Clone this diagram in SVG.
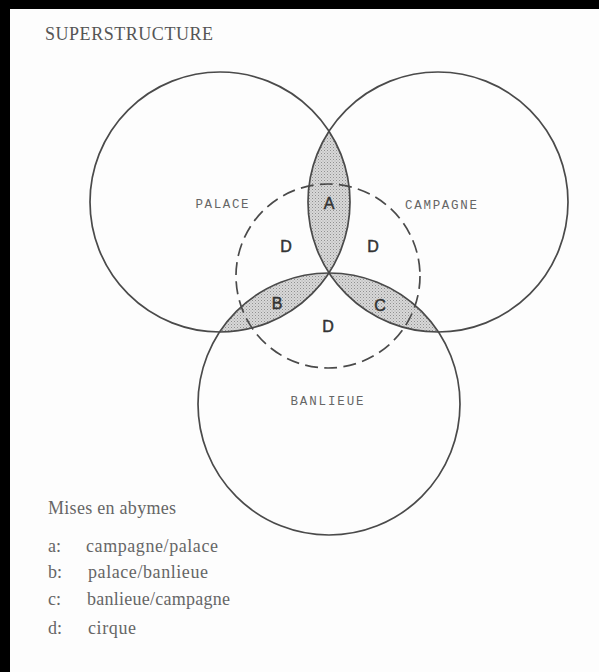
<svg xmlns="http://www.w3.org/2000/svg" width="599" height="672" viewBox="0 0 599 672">
  <defs>
    <pattern id="stipple" width="3" height="3" patternUnits="userSpaceOnUse">
      <rect width="3" height="3" fill="#d8d8d8"/>
      <rect x="0" y="0" width="1" height="1" fill="#909090"/>
      <rect x="1.5" y="1.5" width="1" height="1" fill="#a8a8a8"/>
    </pattern>
  </defs>
  <style>
    .circ { fill: none; stroke: #4a4a4a; stroke-width: 1.7; }
    .dash { fill: none; stroke: #4a4a4a; stroke-width: 1.7; stroke-dasharray: 13 6.3; }
    .lens { fill: url(#stipple); stroke: none; }
    .zone { font-family: "Liberation Sans", Arial, sans-serif; font-size: 16px; fill: #333; stroke: #333; stroke-width: 0.5; text-anchor: middle; }
    .place { font-family: "Liberation Mono", "Courier New", monospace; font-size: 12.5px; fill: #666; text-anchor: middle; }
    .title { font-family: "Liberation Serif", "Times New Roman", serif; font-size: 18px; fill: #555; }
    .legend { font-family: "Liberation Serif", "Times New Roman", serif; font-size: 18px; fill: #666; }
  </style>
  <rect x="0" y="0" width="599" height="672" fill="#fdfdfd"/>
  <rect x="0" y="0" width="599" height="9" fill="#000"/>
  <rect x="0" y="0" width="10" height="672" fill="#000"/>

  <text class="title" x="45" y="40" textLength="168">SUPERSTRUCTURE</text>

  <g id="lens-a">
    <path class="lens" d="M329 131.2 A130 130 0 0 1 329 272.8 A130 130 0 0 1 329 131.2 Z"/>
  </g>
  <g id="lens-b">
    <path class="lens" d="M219.5 332 A130 130 0 0 0 329 273 A131 131 0 0 0 219.5 332 Z"/>
  </g>
  <g id="lens-c">
    <path class="lens" d="M329 273 A130 130 0 0 0 438.5 332 A131 131 0 0 0 329 273 Z"/>
  </g>

  <g id="cirque">
    <circle class="dash" cx="328" cy="276" r="92"/>
  </g>
  <g id="palace">
    <circle class="circ" cx="220" cy="202" r="130"/>
    <text class="place" x="222" y="208" textLength="53">PALACE</text>
  </g>
  <g id="campagne">
    <circle class="circ" cx="438" cy="202" r="130"/>
    <text class="place" x="441" y="209" textLength="72">CAMPAGNE</text>
  </g>
  <g id="banlieue">
    <circle class="circ" cx="329" cy="404" r="131"/>
    <text class="place" x="327" y="405" textLength="73">BANLIEUE</text>
  </g>

  <g id="zone-labels">
    <text class="zone" x="329" y="209">A</text>
    <text class="zone" x="277" y="309">B</text>
    <text class="zone" x="380" y="311">C</text>
    <text class="zone" x="286" y="252">D</text>
    <text class="zone" x="373" y="252">D</text>
    <text class="zone" x="328" y="332">D</text>
  </g>

  <g id="legend">
    <text class="legend" x="48" y="514" textLength="128">Mises en abymes</text>
    <text class="legend" x="48" y="552">a:</text>
    <text class="legend" x="86" y="552" textLength="132">campagne/palace</text>
    <text class="legend" x="48" y="578">b:</text>
    <text class="legend" x="88" y="578" textLength="120">palace/banlieue</text>
    <text class="legend" x="48" y="605">c:</text>
    <text class="legend" x="87" y="605" textLength="143">banlieue/campagne</text>
    <text class="legend" x="48" y="634">d:</text>
    <text class="legend" x="88" y="634" textLength="48">cirque</text>
  </g>
</svg>
